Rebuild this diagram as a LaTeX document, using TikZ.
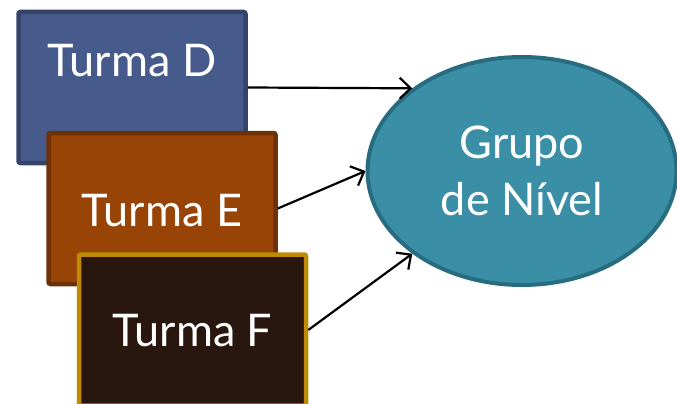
\documentclass[tikz,border=0pt]{standalone}
\usepackage{fontspec}
\setmainfont{Lato}
\usetikzlibrary{shapes.geometric,arrows.meta}
\definecolor{azulD}{RGB}{71,90,140}
\definecolor{azulDborda}{RGB}{52,67,105}
\definecolor{laranjaE}{RGB}{152,68,6}
\definecolor{laranjaEborda}{RGB}{110,48,6}
\definecolor{marromF}{RGB}{40,22,15}
\definecolor{douradoF}{RGB}{191,139,4}
\definecolor{verdeG}{RGB}{58,143,166}
\definecolor{verdeGborda}{RGB}{40,108,128}
\begin{document}
\begin{tikzpicture}[x=1pt,y=-1pt,
  caixa/.style={rectangle, line width=4.5pt, rounded corners=2pt, inner sep=0pt,
    minimum width=227pt, minimum height=151pt},
  rotulo/.style={text=white, font=\fontsize{45}{57}\selectfont},
  seta/.style={-{Straight Barb[length=11pt,width=21pt]}, line width=2.2pt}]
\useasboundingbox (0,0) rectangle (677,404);
\node [caixa, fill=azulD, draw=azulDborda] (D) at (132,87.5) {};
\node [rotulo] (tD) at (132,61) {Turma D};
\node [caixa, fill=laranjaE, draw=laranjaEborda] (E) at (162,208.5) {};
\node [rotulo] (tE) at (162,211) {Turma E};
\node [caixa, fill=marromF, draw=douradoF] (F) at (192.5,330) {};
\node [rotulo] (tF) at (192.5,331) {Turma F};
\node [ellipse, fill=verdeG, draw=verdeGborda, line width=4pt, inner sep=0pt,
  minimum width=309pt, minimum height=228pt, rotulo, align=center] (G) at (522,171)
  {Grupo\\de Nível};
\draw [seta] (D.east) -- (G.143);
\draw [seta] (E.east) -- (G.180);
\draw [seta] (F.east) -- (G.217);
\end{tikzpicture}
\end{document}
